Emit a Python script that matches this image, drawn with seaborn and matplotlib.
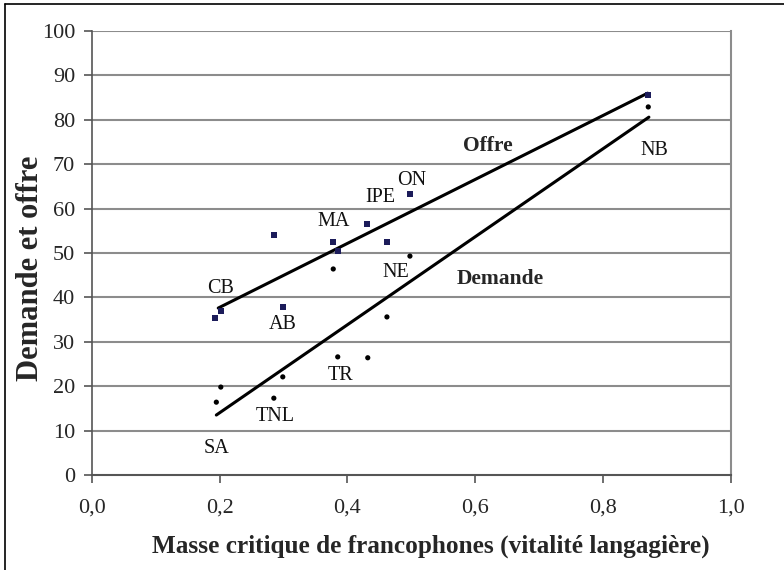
import matplotlib
matplotlib.use("Agg")
import matplotlib.pyplot as plt
from matplotlib.lines import Line2D
import seaborn as sns
import pandas as pd

# Offre (squares) - provinces/territoires
offre_x = [0.193, 0.202, 0.285, 0.299, 0.378, 0.385, 0.431, 0.462, 0.498, 0.871]
offre_y = [35.4, 36.9, 54.1, 37.8, 52.5, 50.5, 56.5, 52.5, 63.3, 85.6]

# Demande (dots)
demande_x = [0.195, 0.202, 0.285, 0.299, 0.385, 0.432, 0.462, 0.378, 0.498, 0.871]
demande_y = [16.4, 19.8, 17.3, 22.1, 26.6, 26.4, 35.6, 46.4, 49.3, 82.9]

# droites de tendance (extremites)
offre_fit_x = [0.198, 0.870]
offre_fit_y = [37.6, 86.0]
demande_fit_x = [0.195, 0.872]
demande_fit_y = [13.5, 80.6]

# etiquettes
labels = ["CB", "MA", "IPE", "ON", "NE", "AB", "TR", "TNL", "SA", "NB"]
label_x = [0.201, 0.378, 0.451, 0.500, 0.476, 0.299, 0.390, 0.287, 0.196, 0.880]
label_y = [42.1, 57.2, 62.6, 66.4, 45.7, 33.8, 22.3, 13.1, 5.9, 73.0]

xticks = [0.0, 0.2, 0.4, 0.6, 0.8, 1.0]
yticks = list(range(0, 101, 10))

sns.set_style("white")
plt.rcParams['font.family'] = ['Liberation Serif', 'DejaVu Serif']

fig = plt.figure(figsize=(7.84, 5.70), dpi=100)
ax = fig.add_axes([0.117, 0.1667, 0.815, 0.7789])

for yv in yticks[1:]:
    ax.axhline(yv, color='#8c8c8c', lw=1.5, zorder=0)

sns.lineplot(x=offre_fit_x, y=offre_fit_y, ax=ax, color='black', lw=2.2, zorder=2)
sns.lineplot(x=demande_fit_x, y=demande_fit_y, ax=ax, color='black', lw=2.2, zorder=2)

sns.scatterplot(x=offre_x, y=offre_y, ax=ax, marker='s', s=18, color='#1c1c5a',
                edgecolor='none', zorder=3)
sns.scatterplot(x=demande_x, y=demande_y, ax=ax, marker='o', s=14, color='black',
                edgecolor='none', zorder=3)

for lab, lx, ly in zip(labels, label_x, label_y):
    ax.text(lx, ly, lab, ha='center', va='center', fontsize=14.5, color='#111111')

ax.text(0.620, 74.1, "Offre", ha='center', va='center', fontsize=15.5, fontweight='bold')
ax.text(0.639, 44.1, "Demande", ha='center', va='center', fontsize=15.5, fontweight='bold')

ax.set_xlim(0, 1.0)
ax.set_ylim(0, 100)
ax.set_xticks(xticks)
ax.set_xticklabels([f"{v:.1f}".replace('.', ',') for v in xticks])
ax.set_yticks(yticks)
ax.tick_params(axis='both', labelsize=16, direction='out', length=6, width=1.2,
               color='#555555', left=True, bottom=True)
ax.tick_params(axis='x', pad=11)
ax.tick_params(axis='y', pad=6)

ax.spines['top'].set_visible(False)
ax.spines['right'].set_color('#8c8c8c')
ax.spines['right'].set_linewidth(1.5)
ax.spines['left'].set_color('#555555')
ax.spines['left'].set_linewidth(1.2)
ax.spines['bottom'].set_color('#555555')
ax.spines['bottom'].set_linewidth(1.5)

ax.set_xlabel("Masse critique de francophones (vitalité langagière)", fontsize=18.2,
              fontweight='bold')
ax.set_ylabel("Demande et offre", fontsize=22, fontweight='bold')
ax.xaxis.set_label_coords(0.53, -0.135)
ax.yaxis.set_label_coords(-0.073, 0.466)

# cadre autour de la figure (gauche et haut)
fig.add_artist(Line2D([5/784, 5/784], [0, 1 - 4/570], transform=fig.transFigure,
                      color='black', lw=1.2))
fig.add_artist(Line2D([5/784, 1], [1 - 4/570, 1 - 4/570], transform=fig.transFigure,
                      color='black', lw=1.2))

fig.savefig("out.png", dpi=100)
